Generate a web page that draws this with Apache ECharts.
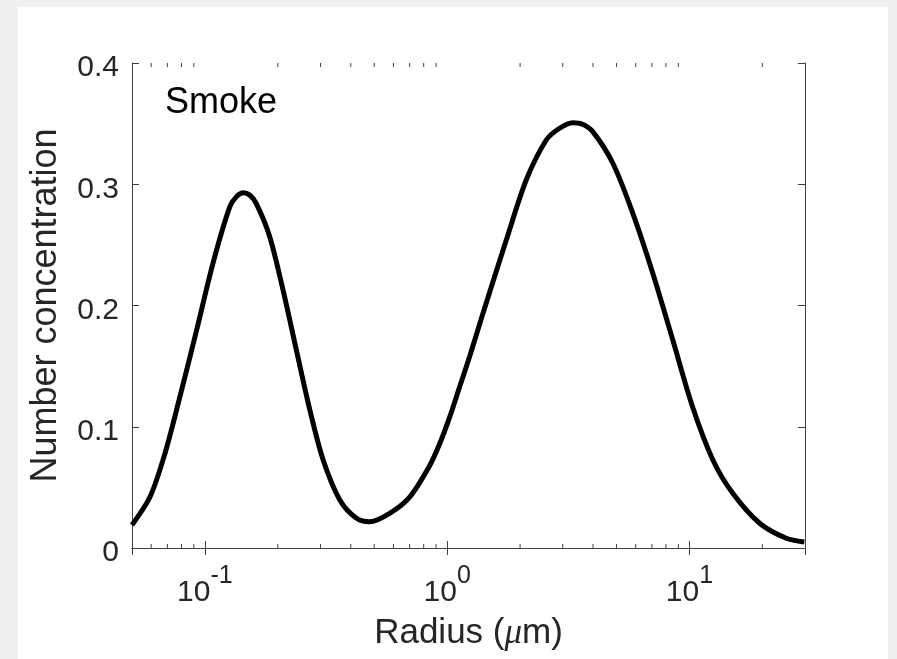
<!DOCTYPE html>
<html>
<head>
<meta charset="utf-8">
<script src="https://cdn.jsdelivr.net/npm/echarts@6/dist/echarts.min.js"></script>
<style>
    html, body { margin: 0; padding: 0; background: #f0f0f0; }
    #chart { position: absolute; left: 18px; top: 7px; width: 870px; height: 652px; background: #fff; }
</style>
</head>
<body>
<div id="chart"></div>
<script>
    // radius (um) and number concentration
    var radius = [0.05, 0.0593, 0.0684, 0.0789, 0.0925, 0.108, 0.1267, 0.135, 0.1439, 0.153, 0.163, 0.185, 0.210, 0.2387,
        0.271, 0.3077, 0.3605, 0.4224, 0.479, 0.579, 0.700, 0.847, 0.931, 1.024, 1.126, 1.238, 1.405, 1.754, 2.12,
        2.565, 2.9, 3.30, 3.6, 3.99, 4.83, 5.84, 7.06, 8.54, 10.3, 12.5, 15.1, 19.5, 25.1, 29.8];
    var conc = [0.019, 0.042, 0.078, 0.125, 0.180, 0.235, 0.2815, 0.2898, 0.293, 0.2911, 0.284, 0.257, 0.213, 0.163,
        0.114, 0.0726, 0.0396, 0.0245, 0.0217, 0.0286, 0.042, 0.068, 0.086, 0.108, 0.133, 0.158, 0.1935, 0.254, 0.3035,
        0.3365, 0.346, 0.3508, 0.3497, 0.3434, 0.3173, 0.276, 0.2266, 0.1715, 0.1165, 0.0726, 0.0451, 0.0204, 0.008, 0.005];
    var minorTicks = [0.06, 0.07, 0.08, 0.09, 0.2, 0.3, 0.4, 0.5, 0.6, 0.7, 0.8, 0.9, 2, 3, 4, 5, 6, 7, 8, 9, 20];
    var xMin = 0.05, xMax = 30;
    var yMin = 0, yMax = 0.4, yStep = 0.1;
    var label = 'Smoke';

    var axisColor = '#404040';
    var textColor = '#262626';
    var font = 'Liberation Sans, Arial, sans-serif';

    var chart = echarts.init(document.getElementById('chart'));

    function xAxisCfg(pos, showLabel) {
        return {
            type: 'log',
            logBase: 10,
            min: xMin,
            max: xMax,
            position: pos,
            splitLine: {show: false},
            axisLine: {show: true, lineStyle: {color: axisColor, width: 1}},
            axisTick: {show: true, inside: true, length: 7, lineStyle: {color: axisColor}},
            axisLabel: {
                show: showLabel,
                showMinLabel: false,
                showMaxLabel: false,
                margin: 16,
                color: textColor,
                formatter: function (v) {
                    return '{m|10}{s|' + Math.round(Math.log10(v)) + '}';
                },
                rich: {
                    m: {fontSize: 30, fontFamily: font, color: textColor, lineHeight: 44, verticalAlign: 'bottom'},
                    s: {fontSize: 25, fontFamily: font, color: textColor, lineHeight: 28, verticalAlign: 'top'}
                }
            }
        };
    }

    function yAxisCfg(pos, showLabel) {
        return {
            type: 'value',
            min: yMin,
            max: yMax,
            interval: yStep,
            position: pos,
            splitLine: {show: false},
            axisLine: {show: true, lineStyle: {color: axisColor, width: 1}},
            axisTick: {show: true, inside: true, length: 7, lineStyle: {color: axisColor}},
            axisLabel: {
                show: showLabel,
                margin: 13,
                fontSize: 30,
                fontFamily: font,
                color: textColor,
                verticalAlign: 'top',
                lineHeight: 10
            }
        };
    }

    var xBottom = xAxisCfg('bottom', true);
    xBottom.name = '{n|Radius (}{mu|μ}{n|m)}';
    xBottom.nameLocation = 'middle';
    xBottom.nameGap = 68;
    xBottom.nameTextStyle = {
        rich: {
            n: {fontSize: 35, fontFamily: font, color: textColor},
            mu: {fontSize: 35, fontFamily: 'Liberation Serif, serif', fontStyle: 'italic', color: textColor}
        }
    };

    var yLeft = yAxisCfg('left', true);
    yLeft.name = 'Number concentration';
    yLeft.nameLocation = 'middle';
    yLeft.nameGap = 68;
    yLeft.nameTextStyle = {fontSize: 36, fontFamily: font, color: textColor};

    var lineData = radius.map(function (r, i) { return [r, conc[i]]; });
    var minorData = minorTicks.map(function (r) { return [r, yMin]; });

    chart.setOption({
        animation: false,
        backgroundColor: '#fff',
        title: {
            text: label,
            left: 142,
            top: 73,
            textStyle: {fontSize: 36, fontWeight: 'normal', fontFamily: font, color: '#000'}
        },
        grid: {left: 114, top: 56, right: 83, bottom: 111, containLabel: false, outerBoundsMode: 'none'},
        xAxis: [xBottom, xAxisCfg('top', false)],
        yAxis: [yLeft, yAxisCfg('right', false)],
        series: [
            {
                type: 'custom',
                silent: true,
                z: 1,
                data: minorData,
                renderItem: function (params, api) {
                    var v = api.value(0);
                    var pb = api.coord([v, yMin]);
                    var pt = api.coord([v, yMax]);
                    return {
                        type: 'group',
                        children: [
                            {type: 'line', shape: {x1: pb[0], y1: pb[1], x2: pb[0], y2: pb[1] - 4}, style: {stroke: axisColor, lineWidth: 1}},
                            {type: 'line', shape: {x1: pt[0], y1: pt[1], x2: pt[0], y2: pt[1] + 4}, style: {stroke: axisColor, lineWidth: 1}}
                        ]
                    };
                }
            },
            {
                type: 'line',
                data: lineData,
                showSymbol: false,
                smooth: 0.3,
                z: 3,
                lineStyle: {color: '#000', width: 5},
                itemStyle: {color: '#000'}
            }
        ]
    });
</script>
</body>
</html>
